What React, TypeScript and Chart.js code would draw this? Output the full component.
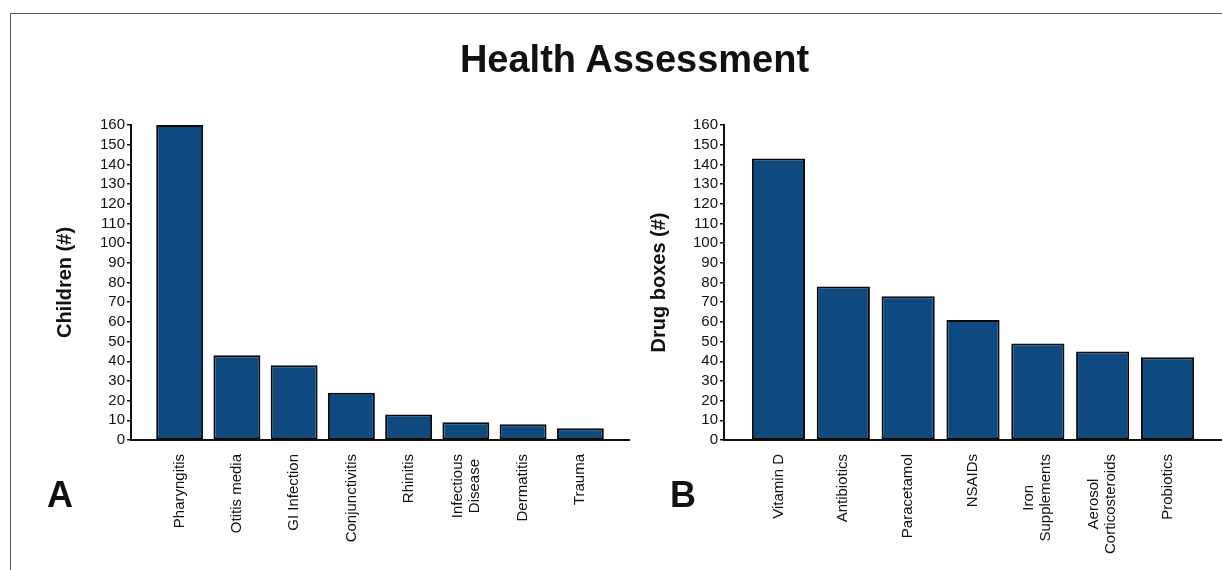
import React, { useEffect, useRef } from "react";
import { Chart, registerables } from "chart.js";

Chart.register(...registerables);

const FONT = '"Liberation Sans", Arial, Helvetica, sans-serif';

const mainTitle = "Health Assessment";

const diagnosisLabels: string[][] = [
  ["Pharyngitis"],
  ["Otitis media"],
  ["GI Infection"],
  ["Conjunctivitis"],
  ["Rhinitis"],
  ["Infectious", "Disease"],
  ["Dermatitis"],
  ["Trauma"],
];
const childrenCounts = [160, 43, 38, 24, 13, 9, 8, 6];

const drugLabels: string[][] = [
  ["Vitamin D"],
  ["Antibiotics"],
  ["Paracetamol"],
  ["NSAIDs"],
  ["Iron", "Supplements"],
  ["Aerosol", "Corticosteroids"],
  ["Probiotics"],
];
const drugBoxCounts = [143, 78, 73, 61, 49, 45, 42];

const yTickValues = [0, 10, 20, 30, 40, 50, 60, 70, 80, 90, 100, 110, 120, 130, 140, 150, 160];

const BAR_FILL = "#0e4a80";
const BAR_EDGE = "#06090d";
const INK = "#111111";

function makeLabelPlugin(labels: string[][], gap: number, lineHeight: number) {
  return {
    id: "rotatedCategoryLabels",
    afterDraw(chart: any) {
      const { ctx } = chart;
      const xs = chart.scales.x;
      ctx.save();
      ctx.font = `15px ${FONT}`;
      ctx.fillStyle = INK;
      ctx.textAlign = "center";
      ctx.textBaseline = "middle";
      labels.forEach((lines, i) => {
        const px = xs.getPixelForValue(i);
        const w = Math.max(...lines.map((l) => ctx.measureText(l).width));
        lines.forEach((line, j) => {
          const x = px + (j - (lines.length - 1) / 2) * lineHeight;
          ctx.save();
          ctx.translate(x, xs.top + gap);
          ctx.rotate(-Math.PI / 2);
          ctx.fillText(line, -w / 2, 0);
          ctx.restore();
        });
      });
      ctx.restore();
    },
  };
}

interface PanelProps {
  labels: string[][];
  values: number[];
  axisTitle: string;
  width: number;
  yAxisWidth: number;
  titlePad: number;
  padRight: number;
  edgePad: number;
}

function BarPanel(p: PanelProps) {
  const ref = useRef<HTMLCanvasElement | null>(null);
  useEffect(() => {
    if (!ref.current) return;
    const n = p.labels.length;
    const chart = new Chart(ref.current, {
      type: "bar",
      data: {
        datasets: [
          {
            data: p.values.map((v, i) => ({ x: i, y: v })),
            backgroundColor: BAR_FILL,
            borderColor: BAR_EDGE,
            borderWidth: 2,
            borderSkipped: false,
            barPercentage: 0.82,
            categoryPercentage: 1,
          },
        ],
      },
      options: {
        responsive: false,
        animation: false,
        layout: { padding: { top: 125, right: p.padRight, bottom: 0, left: 0 } },
        plugins: {
          legend: { display: false },
          tooltip: { enabled: false },
          title: { display: false },
        },
        scales: {
          x: {
            type: "linear",
            offset: false,
            min: -p.edgePad,
            max: n - 1 + p.edgePad,
            afterBuildTicks: (s: any) => {
              s.ticks = p.labels.map((_, i) => ({ value: i }));
            },
            afterFit: (s: any) => {
              s.height = 130;
            },
            grid: { display: false, drawTicks: false, offset: false },
            border: { display: true, color: INK, width: 2 },
            ticks: { display: false },
          },
          y: {
            min: 0,
            max: 160,
            afterBuildTicks: (s: any) => {
              s.ticks = yTickValues.map((v) => ({ value: v }));
            },
            afterFit: (s: any) => {
              s.width = p.yAxisWidth;
            },
            grid: {
              display: true,
              drawOnChartArea: false,
              drawTicks: true,
              tickLength: 4,
              color: INK,
              lineWidth: 1.5,
            },
            border: { display: true, color: INK, width: 2 },
            ticks: {
              color: INK,
              padding: 2,
              autoSkip: false,
              font: { family: FONT, size: 15 },
            },
            title: {
              display: true,
              text: p.axisTitle,
              color: INK,
              font: { family: FONT, size: 20, weight: "bold" },
              padding: { top: p.titlePad, bottom: 0 },
            },
          },
        },
      },
      plugins: [makeLabelPlugin(p.labels, 14, 17)],
    } as any);
    return () => chart.destroy();
  }, []);
  return <canvas ref={ref} width={p.width} height={570} style={{ display: "block", width: p.width, height: 570 }} />;
}

export default function App() {
  return (
    <div
      style={{
        position: "fixed",
        left: 0,
        top: 0,
        width: 1222,
        height: 570,
        overflow: "hidden",
        background: "#ffffff",
        fontFamily: FONT,
      }}
    >
      <div
        style={{
          position: "absolute",
          left: 10,
          top: 13,
          width: 1400,
          height: 800,
          borderLeft: "1px solid #5e5e5e",
          borderTop: "1px solid #5e5e5e",
        }}
      />
      <div style={{ position: "absolute", left: 0, top: 0 }}>
        <BarPanel
          labels={diagnosisLabels}
          values={childrenCounts}
          axisTitle="Children (#)"
          width={640}
          yAxisWidth={131}
          titlePad={53}
          padRight={11}
          edgePad={0.85}
        />
      </div>
      <div style={{ position: "absolute", left: 640, top: 0 }}>
        <BarPanel
          labels={drugLabels}
          values={drugBoxCounts}
          axisTitle="Drug boxes (#)"
          width={582}
          yAxisWidth={84}
          titlePad={7}
          padRight={0}
          edgePad={0.84}
        />
      </div>
      <div
        style={{
          position: "absolute",
          left: 0,
          width: 1269,
          top: 40,
          textAlign: "center",
          fontSize: 38,
          lineHeight: 1,
          fontWeight: "bold",
          color: INK,
          whiteSpace: "nowrap",
        }}
      >
        {mainTitle}
      </div>
      <div style={{ position: "absolute", left: 47, top: 477, fontSize: 36, lineHeight: 1, fontWeight: "bold", color: INK }}>A</div>
      <div style={{ position: "absolute", left: 670, top: 477, fontSize: 36, lineHeight: 1, fontWeight: "bold", color: INK }}>B</div>
    </div>
  );
}
